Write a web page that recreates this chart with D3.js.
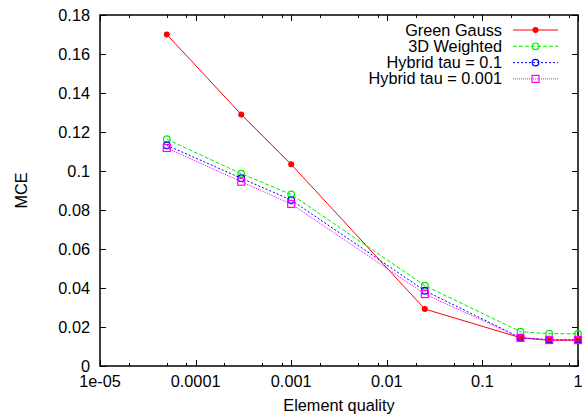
<!DOCTYPE html>
<html>
<head>
<meta charset="utf-8">
<script src="https://cdn.jsdelivr.net/npm/d3@7"></script>
<style>
  body { margin: 0; background: #fff; }
  text { font-family: "Liberation Sans", Arial, sans-serif; font-size: 16.3px; fill: #000; }
</style>
</head>
<body>
<svg id="chart"></svg>
<script>
const width = 585;
const height = 417;
const margin = { top: 15, right: 7, bottom: 51, left: 100 };

// element quality values (x)
const quality = [0.00005, 0.0003, 0.001, 0.025, 0.25, 0.5, 1];

const greenGauss = [0.170, 0.129, 0.1034, 0.0292, 0.0145, 0.0132, 0.0132];
const weighted3d = [0.1163, 0.0986, 0.088, 0.0412, 0.0176, 0.0166, 0.0165];
const hybrid01 = [0.1132, 0.0963, 0.0851, 0.0386, 0.0145, 0.0135, 0.0135];
const hybrid0001 = [0.1118, 0.0945, 0.0831, 0.0369, 0.0144, 0.0133, 0.0133];

const xTicks = [1e-5, 1e-4, 1e-3, 1e-2, 1e-1, 1];
const xTickLabels = ["1e-05", "0.0001", "0.001", "0.01", "0.1", "1"];
const minorFactors = [2, 5, 8];
const yTicks = [0, 0.02, 0.04, 0.06, 0.08, 0.1, 0.12, 0.14, 0.16, 0.18];

const series = [
  { name: "Green Gauss", values: greenGauss, color: "#ff0000", dash: null, marker: "dot" },
  { name: "3D Weighted", values: weighted3d, color: "#00ee00", dash: "4,2", marker: "circle" },
  { name: "Hybrid tau = 0.1", values: hybrid01, color: "#0000ff", dash: "2,2", marker: "circle" },
  { name: "Hybrid tau = 0.001", values: hybrid0001, color: "#ff00ff", dash: "1,1", marker: "square" }
];

const svg = d3.select("#chart").attr("width", width).attr("height", height);

const xScale = d3.scaleLog().domain([1e-5, 1]).range([margin.left, width - margin.right]);
const yScale = d3.scaleLinear().domain([0, 0.18]).range([height - margin.bottom, margin.top]);

const x0 = margin.left, x1 = width - margin.right;
const y0 = height - margin.bottom, y1 = margin.top;

// frame
svg.append("rect")
  .attr("x", x0).attr("y", y1)
  .attr("width", x1 - x0).attr("height", y0 - y1)
  .attr("fill", "none").attr("stroke", "#000").attr("stroke-width", 1.5);

// x ticks (inward, mirrored on top)
const minorTicks = [];
for (let i = 0; i < xTicks.length - 1; i++) {
  minorFactors.forEach((f) => minorTicks.push(xTicks[i] * f));
}
const xt = svg.append("g").attr("stroke", "#000").attr("stroke-width", 1);
xTicks.forEach((t) => {
  const px = Math.round(xScale(t)) + 0.5;
  xt.append("line").attr("x1", px).attr("x2", px).attr("y1", y0).attr("y2", y0 - 6);
  xt.append("line").attr("x1", px).attr("x2", px).attr("y1", y1).attr("y2", y1 + 6);
});
minorTicks.forEach((t) => {
  const px = Math.round(xScale(t)) + 0.5;
  xt.append("line").attr("x1", px).attr("x2", px).attr("y1", y0).attr("y2", y0 - 3);
  xt.append("line").attr("x1", px).attr("x2", px).attr("y1", y1).attr("y2", y1 + 3);
});
svg.append("g")
  .selectAll("text")
  .data(xTicks)
  .join("text")
  .attr("x", (d) => xScale(d))
  .attr("y", y0 + 21)
  .attr("text-anchor", "middle")
  .text((d, i) => xTickLabels[i]);

// y ticks
const yt = svg.append("g").attr("stroke", "#000").attr("stroke-width", 1);
yTicks.forEach((t) => {
  const py = Math.round(yScale(t)) + 0.5;
  yt.append("line").attr("x1", x0).attr("x2", x0 + 6).attr("y1", py).attr("y2", py);
  yt.append("line").attr("x1", x1).attr("x2", x1 - 6).attr("y1", py).attr("y2", py);
});
svg.append("g")
  .selectAll("text")
  .data(yTicks)
  .join("text")
  .attr("x", x0 - 10)
  .attr("y", (d) => yScale(d) + 5.5)
  .attr("text-anchor", "end")
  .text((d) => d3.format("~g")(d));

// axis labels
svg.append("text")
  .attr("x", (x0 + x1) / 2)
  .attr("y", height - 6)
  .attr("text-anchor", "middle")
  .text("Element quality");
svg.append("text")
  .attr("transform", `translate(27, ${(y0 + y1) / 2}) rotate(-90)`)
  .attr("text-anchor", "middle")
  .text("MCE");

const line = d3.line().x((d) => xScale(d[0])).y((d) => yScale(d[1]));

function drawMarker(g, s, cx, cy) {
  if (s.marker === "dot") {
    g.append("circle").attr("cx", cx).attr("cy", cy).attr("r", 3).attr("fill", s.color);
  } else if (s.marker === "circle") {
    g.append("circle").attr("cx", cx).attr("cy", cy).attr("r", 3.3)
      .attr("fill", "none").attr("stroke", s.color).attr("stroke-width", 1.2);
  } else {
    g.append("rect").attr("x", cx - 3.5).attr("y", cy - 3.5).attr("width", 7).attr("height", 7)
      .attr("fill", "none").attr("stroke", s.color).attr("stroke-width", 1.2);
  }
}

series.forEach((s) => {
  const pts = quality.map((q, i) => [q, s.values[i]]);
  const g = svg.append("g");
  g.append("path")
    .attr("d", line(pts))
    .attr("fill", "none")
    .attr("stroke", s.color)
    .attr("stroke-width", 1)
    .attr("stroke-dasharray", s.dash);
  pts.forEach((p) => drawMarker(g, s, xScale(p[0]), yScale(p[1])));
});

// legend
const legend = svg.append("g");
series.forEach((s, i) => {
  const ly = 30 + i * 16.3;
  legend.append("text")
    .attr("x", 502)
    .attr("y", ly + 5.5)
    .attr("text-anchor", "end")
    .text(s.name);
  legend.append("line")
    .attr("x1", 513).attr("x2", 558)
    .attr("y1", ly).attr("y2", ly)
    .attr("stroke", s.color)
    .attr("stroke-width", 1)
    .attr("stroke-dasharray", s.dash);
  drawMarker(legend, s, 535.5, ly);
});
</script>
</body>
</html>
